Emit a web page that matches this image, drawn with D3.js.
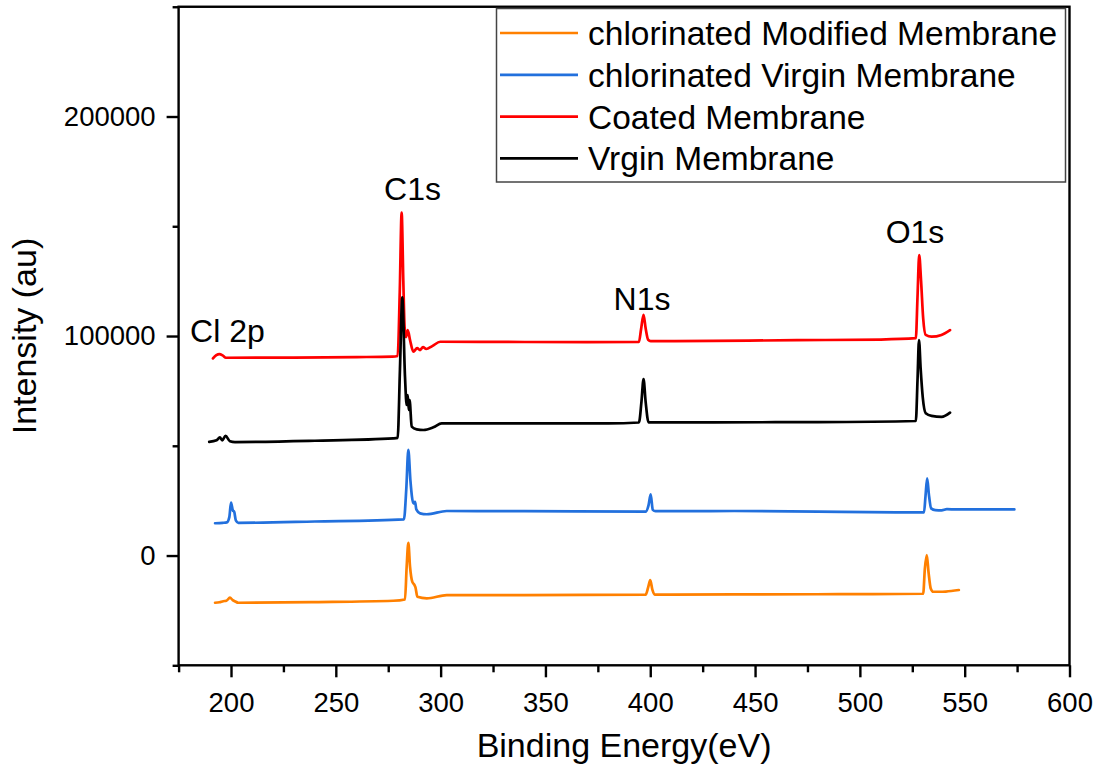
<!DOCTYPE html>
<html>
<head>
<meta charset="utf-8">
<script src="https://cdn.jsdelivr.net/npm/d3@7"></script>
<style>
  html, body { margin: 0; padding: 0; background: #fff; }
  svg { display: block; font-family: "Liberation Sans", Arial, sans-serif; }
</style>
</head>
<body>
<svg id="chart" width="1098" height="772"></svg>
<script>
// XPS survey spectra: binding energy (eV) vs intensity (au)

// Virgin membrane
const virginE = [189.6, 193.1, 194.7, 195.8, 197.4, 199.5, 201.9, 240, 277.4, 279.5, 280.6, 281.7, 283.0, 283.8, 284.3, 284.8, 285.2, 286.2, 288.6, 291.8, 296.5, 300.5, 340, 380, 394.6, 395.8, 396.8, 397.8, 399.2, 430, 480, 526.7, 527.5, 528.2, 529.0, 530.0, 531.4, 534.2, 539.0, 543.0];
const virginI = [51800, 52500, 53800, 52500, 54500, 52100, 51700, 52300, 53400, 53600, 85000, 117600, 81500, 68600, 73100, 66300, 70800, 58700, 57500, 57200, 58400, 60200, 60200, 60200, 60600, 70000, 80400, 70000, 60700, 60700, 60800, 61300, 80000, 98200, 85000, 72000, 64800, 63600, 63200, 65100];

// Coated membrane
const coatedE = [191.4, 193.0, 194.5, 196.0, 197.6, 230, 260, 277, 279.5, 280.5, 281.4, 282.2, 282.8, 283.5, 284.3, 285.4, 287.0, 288.8, 290.2, 291.6, 293.1, 296.0, 299.8, 330, 370, 394.6, 395.6, 396.8, 397.8, 399.0, 400.2, 430, 470, 510, 526.7, 527.5, 528.3, 529.2, 530.2, 531.4, 534.2, 538.9, 543.0];
const coatedI = [89800, 91300, 91800, 91200, 90100, 90200, 90400, 90600, 90900, 120000, 156200, 125000, 104200, 99500, 102700, 98200, 92900, 94500, 93600, 95000, 94100, 95400, 97400, 97300, 97200, 97300, 103000, 109600, 103500, 98300, 97700, 97800, 98100, 98400, 99000, 118000, 136900, 125000, 108000, 100500, 99700, 100500, 102700];

// Chlorinated virgin membrane
const chlVirginE = [192.4, 196.0, 198.0, 199.2, 200.0, 200.9, 201.5, 202.3, 203.5, 240, 282.5, 283.6, 284.6, 285.6, 287.0, 287.8, 288.4, 290.2, 293.4, 302.9, 340, 397.8, 399.2, 400.2, 401.2, 402.5, 440, 480, 520, 530.6, 531.3, 532.1, 532.9, 534.0, 536.0, 539.0, 541.5, 546.0, 573.7];
const chlVirginI = [14700, 14900, 15100, 17500, 24100, 20500, 20000, 16000, 14900, 15500, 16500, 30000, 48100, 34000, 23800, 24500, 21000, 19200, 18800, 20300, 20200, 20000, 23000, 27900, 20800, 20200, 20300, 20000, 19700, 19700, 27000, 35200, 28000, 21500, 20700, 20600, 21100, 21000, 21000];

// Chlorinated modified membrane
const chlModE = [192.4, 194.5, 196.3, 197.8, 199.5, 200.8, 201.8, 203.5, 240, 277.4, 283.0, 283.8, 284.6, 285.4, 286.5, 287.5, 288.0, 288.9, 293.4, 302.9, 340, 397.8, 399.0, 400.0, 401.0, 402.3, 440, 490, 530.2, 531.0, 531.9, 532.8, 533.8, 535.0, 538.0, 541.0, 547.2];
const chlModI = [-21500, -21300, -20800, -20600, -19200, -20300, -20800, -21500, -21200, -20600, -20000, -5000, 5800, -5000, -12000, -13400, -14500, -18800, -19500, -18000, -18000, -17800, -14500, -11200, -15500, -17800, -17700, -17600, -17400, -6000, 200, -8000, -15000, -16500, -16500, -16400, -15700];

// Series names and colours (legend order)
const seriesNames = ["chlorinated Modified Membrane", "chlorinated Virgin Membrane", "Coated Membrane", "Vrgin Membrane"];
const seriesColors = ["#ff8000", "#2270dd", "#ff0000", "#000000"];

// Axis ticks
const xMajorTicks = [200, 250, 300, 350, 400, 450, 500, 550, 600];
const xMinorTicks = [175, 225, 275, 325, 375, 425, 475, 525, 575];
const yMajorTicks = [0, 100000, 200000];
const yMinorTicks = [-50000, 50000, 150000, 250000];

// Peak annotations
const peakLabels = ["Cl 2p", "C1s", "N1s", "O1s"];
const peakLabelE = [198.3, 286.6, 396.1, 526.3];
const peakLabelI = [97300, 161800, 112000, 142500];

const svg = d3.select("#chart");
const W = 1098, H = 772;
const margin = { left: 178.6, top: 6.75, right: W - 1069.5, bottom: H - 665.3 };

const x = d3.scaleLinear().domain([175, 600]).range([margin.left, W - margin.right]);
const y = d3.scaleLinear().domain([-50000, 250000]).range([H - margin.bottom, margin.top]);

const zip = (es, is) => es.map((e, i) => [e, is[i]]);
const series = [
  { data: zip(chlModE, chlModI), color: seriesColors[0] },
  { data: zip(chlVirginE, chlVirginI), color: seriesColors[1] },
  { data: zip(coatedE, coatedI), color: seriesColors[2] },
  { data: zip(virginE, virginI), color: seriesColors[3] }
];

const line = d3.line()
  .x(d => x(d[0]))
  .y(d => y(d[1]))
  .curve(d3.curveMonotoneX);

// Spectra
const gLines = svg.append("g");
series.forEach(s => {
  gLines.append("path")
    .attr("d", line(s.data))
    .attr("fill", "none")
    .attr("stroke", s.color)
    .attr("stroke-width", 2.7)
    .attr("stroke-linejoin", "round")
    .attr("stroke-linecap", "round");
});

// Axes
const axisColor = "#000";
const x0 = x.range()[0], x1 = x.range()[1], y0 = y.range()[0], y1 = y.range()[1];

function styleAxis(g) {
  g.select(".domain").remove();
  g.selectAll(".tick line").attr("stroke", axisColor).attr("stroke-width", 2.4);
  g.selectAll(".tick text").attr("fill", "#000").attr("font-size", 27.5);
}

svg.append("g")
  .attr("transform", `translate(0,${y0})`)
  .call(d3.axisBottom(x).tickValues(xMajorTicks).tickSize(12).tickPadding(15).tickFormat(d3.format("d")))
  .call(styleAxis);
svg.append("g")
  .attr("transform", `translate(0,${y0})`)
  .call(d3.axisBottom(x).tickValues(xMinorTicks).tickSize(7).tickFormat(""))
  .call(styleAxis);
svg.append("g")
  .attr("transform", `translate(${x0},0)`)
  .call(d3.axisLeft(y).tickValues(yMajorTicks).tickSize(12).tickPadding(11).tickFormat(d3.format("d")))
  .call(styleAxis);
svg.append("g")
  .attr("transform", `translate(${x0},0)`)
  .call(d3.axisLeft(y).tickValues(yMinorTicks).tickSize(6).tickFormat(""))
  .call(styleAxis);

// Frame
svg.append("rect")
  .attr("x", x0).attr("y", y1)
  .attr("width", x1 - x0).attr("height", y0 - y1)
  .attr("fill", "none").attr("stroke", axisColor).attr("stroke-width", 2.4);

// Axis titles
svg.append("text")
  .attr("x", (x0 + x1) / 2).attr("y", 757)
  .attr("text-anchor", "middle").attr("font-size", 34)
  .text("Binding Energy(eV)");
svg.append("text")
  .attr("transform", `translate(36,${(y0 + y1) / 2}) rotate(-90)`)
  .attr("text-anchor", "middle").attr("font-size", 34)
  .text("Intensity (au)");

// Peak labels
peakLabels.forEach((t, i) => {
  svg.append("text")
    .attr("x", x(peakLabelE[i])).attr("y", y(peakLabelI[i]))
    .attr("text-anchor", "middle").attr("font-size", 32)
    .text(t);
});

// Legend
const legend = svg.append("g");
legend.append("rect")
  .attr("x", 496.5).attr("y", 8.5).attr("width", 569).attr("height", 173.5)
  .attr("fill", "#fff").attr("stroke", "#444").attr("stroke-width", 1.5);
seriesNames.forEach((name, i) => {
  const cy = 33 + i * 41.8;
  legend.append("line")
    .attr("x1", 500).attr("x2", 578).attr("y1", cy).attr("y2", cy)
    .attr("stroke", seriesColors[i]).attr("stroke-width", 2.7);
  legend.append("text")
    .attr("x", 588).attr("y", cy + 12)
    .attr("font-size", 33.5)
    .text(name);
});
</script>
</body>
</html>
